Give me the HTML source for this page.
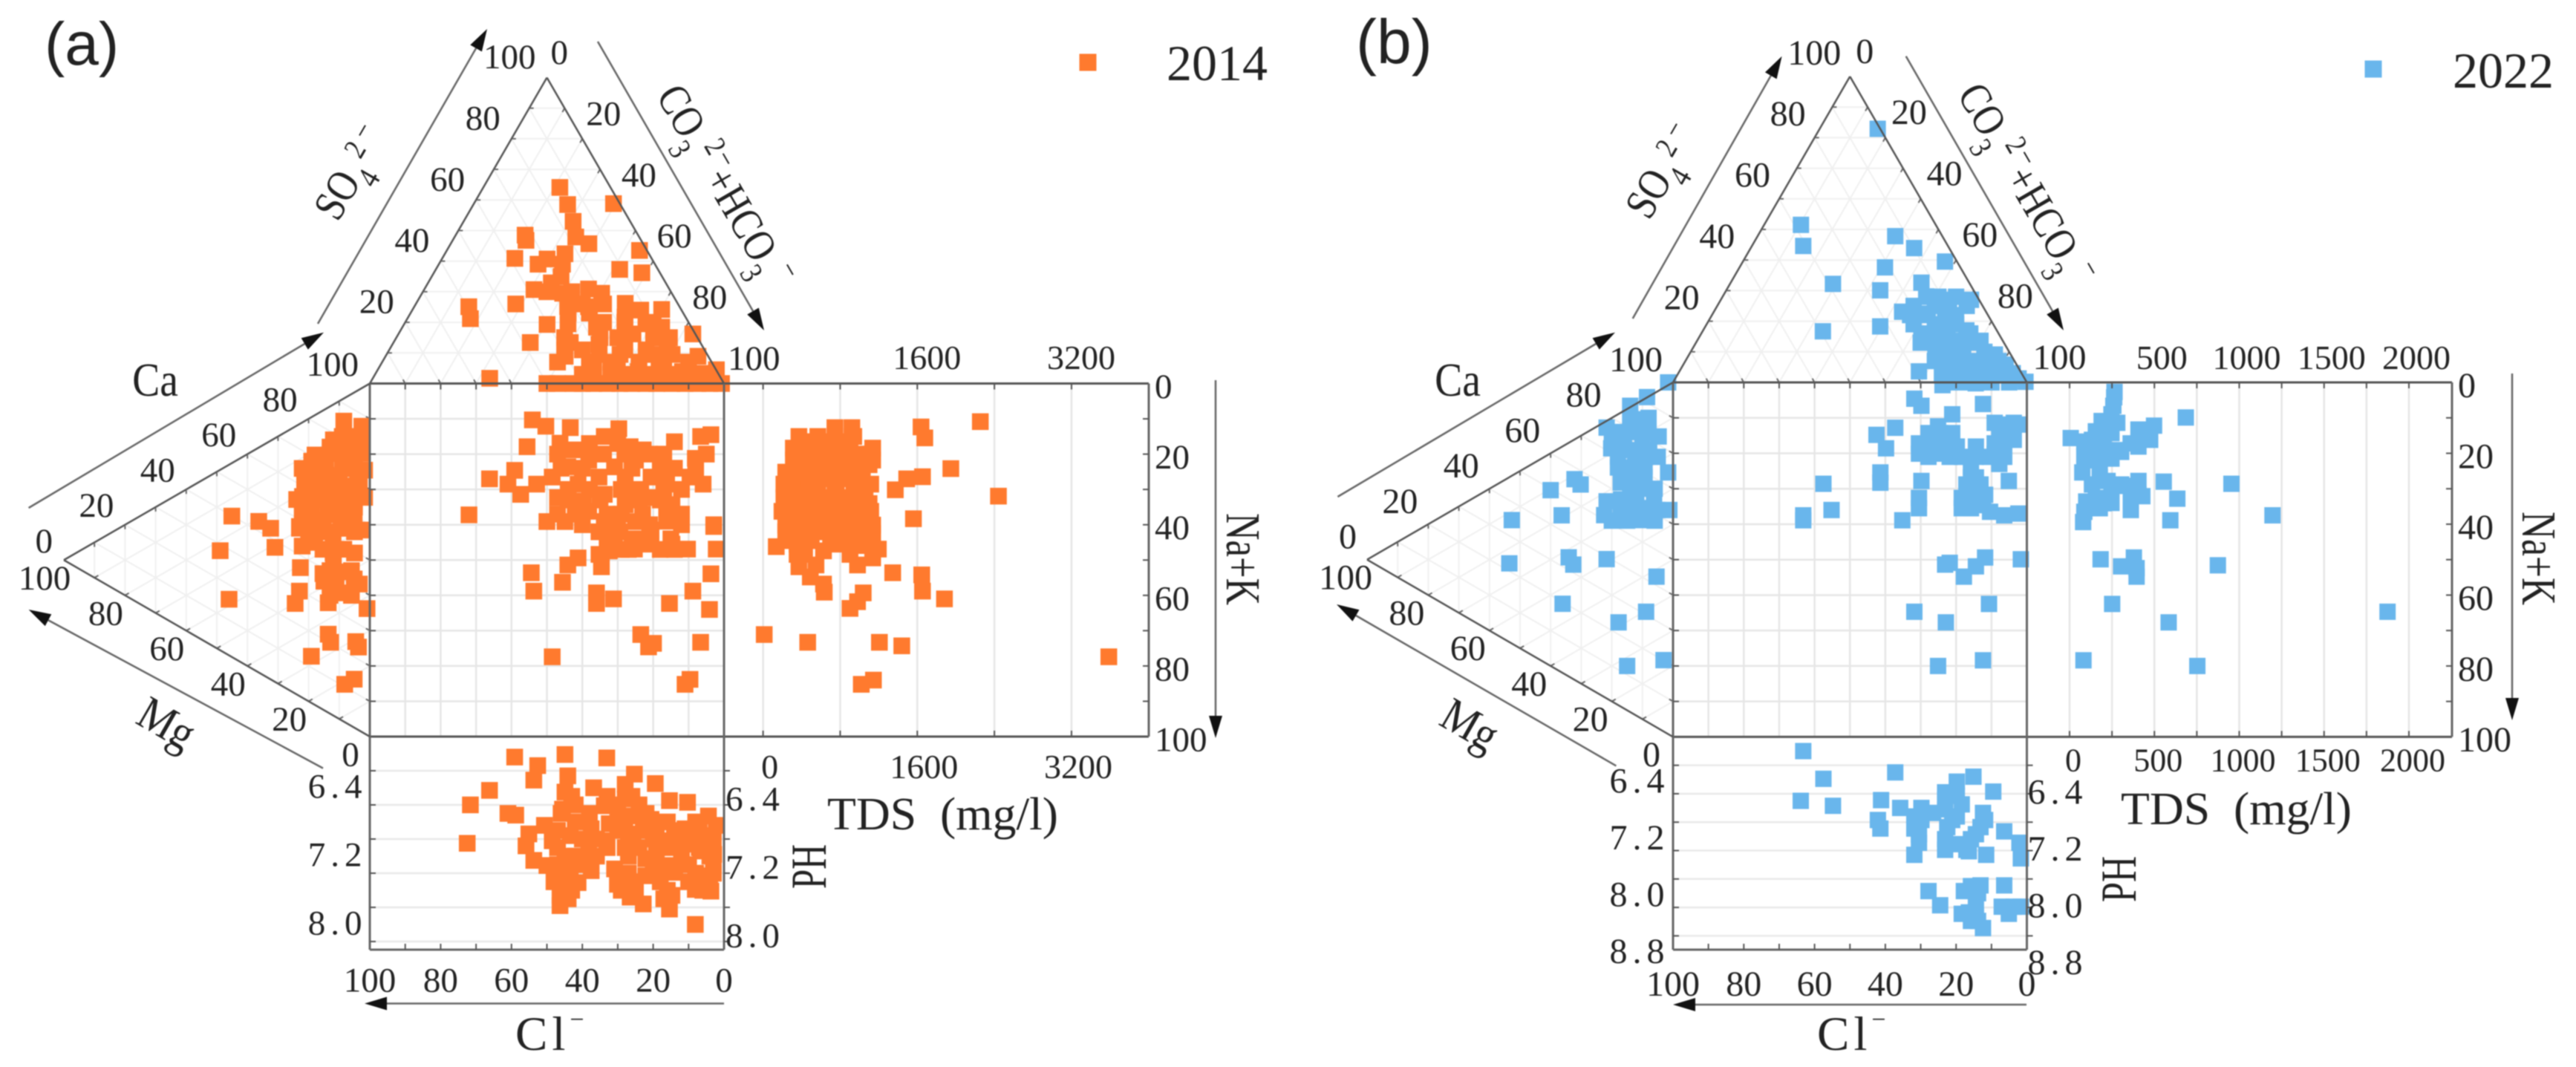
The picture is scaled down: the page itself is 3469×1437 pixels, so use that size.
<!DOCTYPE html>
<html lang="en">
<head>
<meta charset="utf-8">
<title>Piper diagrams 2014 and 2022</title>
<style>
html,body{margin:0;padding:0;background:#fff;}
svg{display:block;filter:blur(0.7px);}
text{font-family:"Liberation Serif",serif;fill:#222;}
.sans{font-family:"Liberation Sans",sans-serif;}
</style>
</head>
<body>
<svg id="chart" xmlns="http://www.w3.org/2000/svg" width="3469" height="1437" viewBox="0 0 3469 1437">
<rect width="3469" height="1437" fill="#fff"/>
<g id="plots"></g>

<text class="sans" x="60" y="87" font-size="82">(a)</text>
<text class="sans" x="1826" y="85" font-size="84">(b)</text>

<rect x="1453.5" y="72.5" width="23" height="23" fill="#FF7A2E"/>
<text x="1571" y="108" font-size="68">2014</text>
<rect x="3184.5" y="81.5" width="23" height="23" fill="#69B6EC"/>
<text x="3303" y="118" font-size="68">2022</text>

<text transform="translate(209,533) scale(0.87,1)" font-size="64" text-anchor="middle">Ca</text>
<text transform="translate(224,975) rotate(30) scale(0.87,1)" y="20" font-size="64" text-anchor="middle">Mg</text>
<text x="694" y="1414" font-size="65" letter-spacing="6">Cl<tspan font-size="34" dy="-30">−</tspan></text>
<text x="1114" y="1117" font-size="62" textLength="311" lengthAdjust="spacingAndGlyphs">TDS&#160;&#160;(mg/l)</text>
<text transform="translate(1112,1167) rotate(-90)" font-size="68" text-anchor="middle" textLength="60" lengthAdjust="spacingAndGlyphs">PH</text>
<text transform="translate(1652,753) rotate(90)" font-size="66" text-anchor="middle" textLength="124" lengthAdjust="spacingAndGlyphs">Na+K</text>
<text transform="translate(455,300) rotate(-60) scale(0.833,1)" font-size="60">SO<tspan font-size="43" dy="20">4</tspan><tspan font-size="41" dx="8" dy="-36">2</tspan><tspan font-size="41" dx="11" dy="-4">−</tspan></text>
<text transform="translate(883,129) rotate(60) scale(0.833,1)" font-size="60">CO<tspan font-size="43" dy="22">3</tspan><tspan font-size="41" dx="4" dy="-44">2</tspan><tspan font-size="41" dx="4" dy="-4">−</tspan><tspan font-size="60" dx="-2" dy="26">+HCO</tspan><tspan font-size="43" dy="22">3</tspan><tspan font-size="41" dx="4" dy="-48">−</tspan></text>

<text transform="translate(1963,533) scale(0.87,1)" font-size="64" text-anchor="middle">Ca</text>
<text transform="translate(1979,977) rotate(30) scale(0.87,1)" y="20" font-size="64" text-anchor="middle">Mg</text>
<text x="2447" y="1414" font-size="65" letter-spacing="6">Cl<tspan font-size="34" dy="-30">−</tspan></text>
<text x="2856" y="1110" font-size="62" textLength="311" lengthAdjust="spacingAndGlyphs">TDS&#160;&#160;(mg/l)</text>
<text transform="translate(2876,1184) rotate(-90)" font-size="68" text-anchor="middle" textLength="62" lengthAdjust="spacingAndGlyphs">PH</text>
<text transform="translate(3397,752) rotate(90)" font-size="66" text-anchor="middle" textLength="126" lengthAdjust="spacingAndGlyphs">Na+K</text>
<text transform="translate(2221,298) rotate(-60) scale(0.833,1)" font-size="60">SO<tspan font-size="43" dy="20">4</tspan><tspan font-size="41" dx="8" dy="-36">2</tspan><tspan font-size="41" dx="11" dy="-4">−</tspan></text>
<text transform="translate(2635,127) rotate(60) scale(0.833,1)" font-size="60">CO<tspan font-size="43" dy="22">3</tspan><tspan font-size="41" dx="4" dy="-44">2</tspan><tspan font-size="41" dx="4" dy="-4">−</tspan><tspan font-size="60" dx="-2" dy="26">+HCO</tspan><tspan font-size="43" dy="22">3</tspan><tspan font-size="41" dx="4" dy="-48">−</tspan></text>
</svg>
<script>
// Tick labels
const percentLabels = [0, 20, 40, 60, 80, 100];
const aTdsTicks = [0, 800, 1600, 2400, 3200];
const aTdsLabels = [1600, 3200];
const aTdsLabelsLower = [0, 1600, 3200];
const bTdsTicks = [0, 250, 500, 750, 1000, 1250, 1500, 1750, 2000];
const bTdsLabels = [500, 1000, 1500, 2000];
const bTdsLabelsLower = [0, 500, 1000, 1500, 2000];
const aPhTicks = [6.4, 6.8, 7.2, 7.6, 8.0, 8.4];
const aPhLabels = ["6.4", "7.2", "8.0"];
const bPhTicks = [6.4, 6.8, 7.2, 7.6, 8.0, 8.4, 8.8];
const bPhLabels = ["6.4", "7.2", "8.0", "8.8"];

// 2014: anion triangle [SO4, CO3+HCO3]
const aAnion = [[64.1,21.6],[58.5,26.6],[58.8,39.4],[53,30.9],[48.5,19.6],[46.8,20.7],[47.9,34.2],[45.7,39],[43.5,54.4],[42.4,33.9],[40.7,29.7],[39,28],[40.9,20.5],[39,34.9],[37.3,51.9],[36.2,58.7],[32.9,34.8],[30.7,31],[30.9,46.3],[29.5,50.7],[29.5,39.7],[26,28.2],[25.1,15.4],[21.2,17.8],[26.2,59],[24.2,70.3],[24,64.5],[25.1,43.3],[25.1,49.2],[19.3,40.4],[19.5,46.2],[18.4,54.8],[21.7,61.2],[19.5,68.2],[16.2,83.1],[15,77.1],[15,72.6],[13.4,38.6],[13.4,49.9],[8.9,50.7],[12.8,58.3],[9.5,65.9],[9.5,74.7],[9.5,80.6],[8.9,88.2],[4.5,95.6],[5,60.7],[5.6,67.1],[3.9,73.8],[4.5,79.4],[3.9,86.3],[3.3,92.5],[1.7,33],[0,50],[0,57.4],[0,63.2],[0,70.6],[0,77.9],[0,85.3],[0,92.6],[0,99.3],[9.5,60],[16.2,66.2],[18.4,73.2],
[20,56],[20,62],[20,70],[15,47.5],[15,57.5],[15,62.5],[15,74.5],[11,49.5],[11,54.5],[11,66.5],[11,72.5],[11,78.5],[7,49.5],[7,58.5],[7,64.5],[7,72.5],[7,79.5],[7,86.5],[3,58.5],[3,66.5],[3,70.5],[3,76.5],[3,82.5],[3,88.5],[3,94.5],[35,36.5],[30,35],[30,42],[26,47],[26,53],[23,44.5],[23,50.5],[0,53],[0,60],[0,67],[0,74],[0,81],[0,89],[0,96]];
// 2014: cation triangle [Mg, Ca]
const aCation = [[8.5,85.1],[2.6,86.6],[11.9,78.1],[2.6,82.8],[17.9,70.8],[10.2,75.1],[2.6,78.9],[22.1,64.9],[14.5,68.7],[6.8,72.5],[1.7,74.6],[21.3,60.9],[11.9,65.6],[3.4,69.8],[23.9,55.2],[15.3,59.5],[7.7,63.4],[1.7,66.9],[22.1,51.8],[13.6,56],[5.1,60.3],[23,47.5],[15.3,51.4],[6.8,55.6],[45.1,39.9],[36.3,42.8],[32.4,42.8],[23,48],[17,50.5],[9.4,54.3],[2.6,57.2],[48.9,28.2],[31,38.1],[22.1,42.9],[15.3,45.4],[8.5,48.8],[11.9,43.7],[22.7,36.5],[15.3,38.5],[8.5,42.4],[5.1,42.1],[3.4,41.5],[9.4,36],[23,29.7],[24.4,25.5],[13.6,31.1],[46,15.9],[0.9,35.8],[13.6,22.2],[12.8,20.3],[4.6,24.6],[3.7,23.5],[19.1,13.2],[5.1,13.7],[8.2,10.7],
[5,82.5],[9,80.5],[5,79.5],[9,77.5],[13,75.5],[5,75.5],[9,73.5],[15,70.5],[19,68.5],[4,72],[10,69],[17,65.5],[7,67.5],[16,63],[19,61.5],[5,65.5],[11,62.5],[19,58.5],[22,57],[5,62.5],[10,60],[19,55.5],[9,56.5],[18,52],[5,55.5],[14,51],[20,48],[12,49],[18,46],[5,49.5],[12,46],[6,44],[13,40.5],[11,38.5],[15,36.5],[6,37],[13,33.5]];
// 2014: diamond square [Cl, Na+K]
const aSquare = [[54.1,10.3],[50.3,12.1],[55.6,17.9],[66.2,27],[59.1,24.6],[61,28.5],[57.4,31.4],[72,37.2],[43.4,12.5],[29.7,12.8],[14,16.5],[6.6,15],[3.7,14.5],[8.1,21.2],[46.3,16.9],[42.6,18.8],[33.8,15],[26.5,17.9],[22.8,18.8],[44.1,23.6],[38.2,21.7],[30.9,23.6],[25,21.7],[35.3,26.5],[48.5,26.5],[52.9,28.5],[41.2,28.5],[27.9,26.5],[20.6,26.5],[5.9,28.5],[9.6,26.5],[33.8,31.4],[23.5,30.4],[16.2,28.5],[47,32.3],[39.7,33.3],[27.9,34.3],[20.6,32.3],[14.7,34.3],[50,39.1],[44.9,39.1],[33.8,39.1],[25,39.1],[16.2,37.2],[2.9,40.5],[38.2,36.2],[35.3,42],[29.4,42],[20.6,41.5],[32.4,47.4],[35.3,48.4],[41.2,49.4],[44.1,51.4],[54.4,53.6],[45.6,56.3],[53.7,58.8],[25.3,46.9],[20.6,45.5],[14.7,45.5],[10.3,46.9],[2.2,46.9],[34.6,51.9],[3.7,53.9],[8.8,58.8],[36,59.3],[36,62.3],[31.2,61],[15.4,62.3],[4.1,64],[23.5,71.1],[19.9,73.6],[21.3,74.6],[6.6,73.3],[48.5,77.4],[9.6,83.8],[11,85.2],[2.9,40],[16.2,39],[30.9,42.5],
[38,17],[30,17],[47,20],[34,20],[28,20],[21,20],[17,20],[5,20],[46,24],[40,24],[26,24],[18,24],[14,24],[8,24],[44,30],[38,30],[29,30],[25,30],[17,30],[12,30],[44,33],[35,33],[24,33],[18,33],[47,37],[42,37],[33,37],[29,37],[23,37],[12,37],[40,40],[30,40],[21,40],[12,40],[33,44],[26,44],[23,44],[15,44],[29,47],[27,47],[18,47],[14,47]];
// 2014: TDS panel [TDS, Na+K]
const aTds = [[2254,10.8],[1639,12.3],[1678,15.4],[1948,24.1],[1654,26.4],[1490,27],[1372,30.1],[2442,31.9],[1560,38.3],[921,12.5],[745,12.5],[372,15],[568,15],[745,15],[941,15],[314,18.3],[510,18.3],[706,18.3],[902,18.3],[1137,18.3],[314,21.7],[470,21.7],[666,21.7],[823,21.7],[1019,21.7],[1137,21.7],[235,25.1],[392,25.1],[588,25.1],[784,25.1],[980,25.1],[216,28.5],[372,28.5],[568,28.5],[745,28.5],[941,28.5],[1117,28.5],[216,32.3],[431,32.3],[666,32.3],[862,32.3],[1058,32.3],[196,36.2],[392,36.2],[588,36.2],[784,36.2],[980,36.2],[1117,36.2],[235,40.1],[431,40.1],[627,40.1],[823,40.1],[1019,40.1],[1137,40.1],[235,42],[431,42],[627,41.5],[823,41.5],[1019,41.5],[1137,42.5],[137,46.2],[353,45.5],[353,48.4],[627,47.4],[784,45.5],[1196,46.9],[1137,49.4],[980,51.4],[372,51.9],[490,54.8],[627,56.8],[635,59.1],[1039,59.3],[980,61.8],[902,63.7],[1345,53.6],[1646,54.2],[1654,58.8],[1882,61],[12,71.1],[463,73.3],[1207,73.3],[1439,74.3],[3587,77.4],[1145,84],[1019,85.2],[549,51.4],[431,48.4],[1058,45.9],[902,48.4],
[400,16.5],[500,16.5],[600,16.5],[700,16.5],[800,16.5],[900,16.5],[400,20],[500,20],[600,20],[700,20],[800,20],[900,20],[1000,20],[1100,20],[320,23],[420,23],[520,23],[620,23],[720,23],[820,23],[920,23],[1020,23],[1100,23],[300,27],[480,27],[660,27],[850,27],[1030,27],[300,30],[480,30],[560,30],[760,30],[950,30],[1040,30],[300,34],[500,34],[750,34],[950,34],[1100,34],[300,38],[500,38],[700,38],[900,38],[320,42],[530,42],[730,42],[920,42],[280,44.5],[500,44.5],[700,44.5],[880,44.5],[1000,44.5]];
// 2014: pH panel [Cl, pH]
const aPh = [[59.1,6.24],[44.9,6.21],[33.1,6.25],[52.6,6.34],[53.7,6.51],[25.3,6.44],[44.1,6.46],[66.2,6.63],[71.6,6.8],[19.4,6.55],[10.3,6.77],[15.4,6.75],[4.4,6.93],[2.2,7.04],[61,6.9],[58.8,6.92],[72.5,7.25],[44.9,6.65],[45.6,6.85],[36.8,6.6],[27.9,6.56],[27.9,6.73],[33.8,6.81],[50.7,7.04],[55.1,7.14],[55.9,7.28],[53.7,7.45],[48.5,7.22],[43.4,7.16],[37.5,7.08],[32.4,7.02],[26.5,6.93],[20.6,6.97],[19.1,7.14],[25.7,7.14],[33.1,7.22],[38.2,7.32],[44.9,7.4],[50,7.51],[43.4,7.57],[37.5,7.57],[45.6,7.71],[41.2,7.71],[46.3,7.98],[46.3,7.86],[30.9,7.55],[30.1,7.73],[26.5,7.88],[22.8,7.96],[15.4,8.02],[14.7,7.86],[22.1,7.63],[22.1,7.43],[16.2,7.51],[11,7.08],[10.3,7.26],[14.7,7.22],[13.9,7.59],[6.6,7.34],[2.9,7.38],[8.1,7.79],[3.7,7.81],[5.9,7.63],[4.4,7.16],[8.1,8.2],[27.9,7.3],[19.1,7.32],[22.8,7.06],
[42,7],[28,7],[16,7],[8,7],[47,7.1],[30,7.1],[22,7.1],[14,7.1],[7,7.1],[40,7.2],[36,7.2],[27,7.2],[20,7.2],[9,7.2],[3,7.2],[47,7.3],[33,7.3],[24,7.3],[16,7.3],[7,7.3],[42,7.4],[36,7.4],[27,7.4],[12,7.4],[4,7.4],[47,7.5],[40,7.5],[20,7.5],[10,7.5],[3,7.5],[46,7.6],[27,7.6],[18,7.6],[8,7.6],[3,7.6],[48,7.7],[26,7.7],[18,7.7],[10,7.7],[4,7.7],[43,7.8],[29,7.8],[25,7.8],[16,7.8],[6,7.8],[42,6.8],[32,6.8],[24,6.8],[46,6.9],[38,6.9],[30,6.9],[22,6.9],[43,6.7],[33,6.7],[26,6.7],[44,7.9],[17,7.9]];

// 2022: anion triangle [SO4, CO3+HCO3]
const bAnion = [[82.9,16.4],[51.5,10.4],[44.6,14.5],[47.8,38.9],[43.9,46.2],[39.5,57.1],[37.6,41.1],[32.2,29.1],[30.1,43.5],[32.6,53.9],[28.1,57.5],[27,64],[27,70.7],[23.1,53.2],[22.5,58.9],[22,65.9],[18.3,49.4],[16.7,34],[15.8,62.3],[18.1,68.5],[17,74.4],[10.3,69],[13.6,73.4],[13.6,80.1],[9.1,86.4],[3.6,67.7],[8,77.6],[6.9,83.5],[5.8,90.7],[2.5,81.7],[2.5,87],[2.5,92.4],[1.3,97],[0.2,99.5],[-0.9,76.6],[11.4,72.5],[-0.3,85.7],
[28,58],[28,61],[28,66],[25,55.5],[25,61.5],[25,65.5],[25,70.5],[22,56],[22,61],[22,69],[19,58.5],[19,64.5],[19,70.5],[16,64],[16,68],[16,76],[13,63.5],[13,67.5],[13,77.5],[10,73],[10,77],[10,83],[7,70.5],[7,74.5],[7,80.5],[7,88.5],[5,79.5],[5,85.5],[5,91.5],[3,74.5],[3,77.5],[3,83.5],[3,88.5],[3,94.5],[0,80],[0,83],[0,90],[0,95]];
// 2022: cation triangle [Mg, Ca]
const bCation = [[1.6,99.2],[8.5,91.6],[14,86.4],[21.7,76.4],[12.4,83.4],[9.3,82],[4.7,82.4],[20.2,71.3],[14,73.9],[7.8,77],[9.3,71.5],[1.6,73.8],[17.1,63.2],[9.3,68.6],[32.2,56.6],[40,49.6],[21.7,55.6],[14,62.3],[6.2,64.8],[17.1,56],[9.3,59.9],[22.5,51.3],[10.9,55.7],[1.2,63.4],[36.4,44.3],[52.7,34.8],[30.2,56.1],[12.4,71.8],[15.5,67.4],[53.5,22.2],[34.1,33.6],[32.6,32.3],[21.7,39.3],[5.4,42.5],[36.1,19.5],[8.8,30.9],[17.8,23.4],[15,12.5],[3.1,20.1],
[8,86],[14,83],[8,82],[13,79.5],[18,77],[10,78],[16,75],[20,73],[5,76.5],[10,74],[18,70],[13,69.5],[18,67],[13,66.5],[10,65],[6,67],[12,61],[17,58.5],[14,57],[5,61.5],[15,53.5],[20,51],[6,58]];
// 2022: diamond square [Cl, Na+K]
const bSquare = [[31.8,4.6],[29.8,6.6],[21.1,9],[37.2,12.8],[42.5,14.8],[39.8,18.6],[12.4,6.1],[24.5,14.3],[27.8,17.2],[22.5,17.2],[30.5,20.1],[25.1,20.1],[18.4,21],[14.4,18.1],[7.8,13.3],[5.1,11.9],[2.4,11.9],[6.4,17.2],[9.1,20.1],[7.8,23],[3.7,16.2],[41.4,25.4],[41.4,28.3],[29.8,27.8],[57.5,28.6],[5.1,27.8],[14.4,26.8],[15.8,30.7],[14.4,34.6],[18.4,35.5],[30.5,32.6],[30.5,35.5],[55.2,36],[63.2,37.5],[63.2,38.9],[35.2,38.9],[6.4,37.5],[12.4,34.6],[2.4,37],[23.1,51.4],[21.8,50.9],[17.8,54.8],[14.4,51.9],[11.8,49.4],[1.7,49.9],[10.7,62.5],[31.8,64.7],[22.9,67.7],[25.1,80],[12.4,78.4],
[25.1,12.4],[27.8,14.3],[21.1,14.3],[30.5,17.2],[25.1,17.2],[19.8,18.1],[27.8,21],[21.8,21],[14.4,21],[15.8,23.9],[15.8,26.8],[17.1,28.8],[13.1,28.8],[11.8,31.7],[18.4,32.6],[15.8,35.5],[10.4,36.5],[9.1,11.4],[6.4,14.3],[9.1,17.2],[10.4,21],[6.4,21],[3.7,11.4]];
// 2022: TDS panel [TDS, Na+K]
const bTds = [[265,2.7],[258,6.6],[189,10.9],[281,11.4],[7,15.7],[132,16.2],[201,15.3],[406,13.3],[498,12.2],[475,16.2],[110,20.1],[201,20.1],[304,19.6],[406,18.1],[75,25.4],[178,24.9],[132,28.8],[224,27.8],[304,28.8],[406,27.8],[555,28],[429,32.1],[635,32.8],[201,34.1],[98,33.6],[361,36],[132,35.5],[80,39.4],[594,38.9],[685,9.9],[954,28.6],[1196,37.5],[183,49.9],[304,51.9],[379,49.4],[395,52.4],[395,54.8],[874,51.6],[251,62.5],[584,67.7],[1874,64.7],[82,78.4],[753,80],
[263,4.2],[247,9],[201,11.4],[155,13.8],[247,14.3],[87,16.7],[178,18.1],[270,19.1],[360,17.2],[429,15.7],[87,21],[155,22],[247,21.5],[178,26.8],[247,29.7],[338,29.2],[406,31.7],[361,33.6],[155,32.6],[247,34],[87,36.5],[178,35.5]];
// 2022: pH panel [Cl, pH]
const bPh = [[63.2,6.2],[57.5,6.59],[63.9,6.9],[54.8,6.97],[37.2,6.5],[15.1,6.56],[19.8,6.63],[23.1,6.78],[9.5,6.77],[41.2,6.89],[35.8,7],[29.8,7],[29.8,7.17],[23.1,7.02],[18.4,6.95],[21.1,7.17],[12.4,7.07],[13.1,7.27],[42.1,7.17],[41.4,7.29],[31.8,7.29],[30.5,7.49],[31.8,7.66],[23.1,7.44],[23.1,7.59],[17.1,7.59],[15.8,7.44],[11.5,7.66],[6.4,7.33],[2.1,7.49],[1.7,7.71],[27.8,8.17],[24.5,8.37],[13.1,8.09],[17.8,8.17],[6.4,8.09],[18.4,8.49],[14.4,8.39],[12.4,8.69],[13.8,8.59],[7.1,8.39],[5.1,8.49],[1.7,8.39],
[23.1,6.88],[19.8,6.83],[26.5,7.07],[19.8,7.12],[31.8,7.12],[22.5,7.27],[19.8,7.51],[16.4,7.61],[14.4,7.37],[11.8,7.17],[13.8,8.2],[15.8,8.1],[14.4,8.52],[16.4,8.47],[15.8,8.59],[3.7,8.39],[30.5,7.37]];

const NS = "http://www.w3.org/2000/svg";
const plots = document.getElementById("plots");

function lerp(p, q, t) {
  return [p[0] + (q[0] - p[0]) * t, p[1] + (q[1] - p[1]) * t];
}
function group(parent, name) {
  const el = document.createElementNS(NS, "g");
  
  
  parent.appendChild(el);
  return el;
}
function line(parent, x1, y1, x2, y2, stroke, width, name) {
  const el = document.createElementNS(NS, "line");
  el.setAttribute("x1", x1);
  el.setAttribute("y1", y1);
  el.setAttribute("x2", x2);
  el.setAttribute("y2", y2);
  el.setAttribute("stroke", stroke);
  el.setAttribute("stroke-width", width);
  
  
  parent.appendChild(el);
  return el;
}
function label(parent, txt, x, y, size, anchor, name, spacing) {
  const el = document.createElementNS(NS, "text");
  el.setAttribute("x", x);
  el.setAttribute("y", y + size * 0.33);
  el.setAttribute("font-size", size);
  el.setAttribute("text-anchor", anchor);
  if (spacing) el.setAttribute("letter-spacing", spacing);
  el.textContent = txt;
  
  
  parent.appendChild(el);
  return el;
}
function marker(parent, x, y, size, color, name) {
  const el = document.createElementNS(NS, "rect");
  el.setAttribute("x", x - size / 2);
  el.setAttribute("y", y - size / 2);
  el.setAttribute("width", size);
  el.setAttribute("height", size);
  el.setAttribute("fill", color);
  
  
  parent.appendChild(el);
  return el;
}
function arrow(parent, x1, y1, x2, y2, name) {
  const g = group(parent, name);
  const len = Math.hypot(x2 - x1, y2 - y1);
  const ux = (x2 - x1) / len, uy = (y2 - y1) / len;
  const bx = x2 - ux * 30, by = y2 - uy * 30;
  line(g, x1, y1, bx, by, "#666", 2.5, name + "-line");
  const head = document.createElementNS(NS, "polygon");
  head.setAttribute("points", x2 + "," + y2 + " " + (bx - uy * 9) + "," + (by + ux * 9) + " " + (bx + uy * 9) + "," + (by - ux * 9));
  head.setAttribute("fill", "#111");
  
  
  g.appendChild(head);
}
function triangleGrid(parent, p, q, r, name) {
  const sets = [[p, q, r], [q, r, p], [r, p, q]];
  for (let s = 0; s < 3; s++) {
    const a = sets[s][0], b = sets[s][1], c = sets[s][2];
    for (let v = 1; v < 10; v++) {
      const e1 = lerp(a, b, v / 10), e2 = lerp(a, c, v / 10);
      line(parent, e1[0], e1[1], e2[0], e2[1], "#f0f0f0", 2, name + "-gridline");
      const d = Math.hypot(e2[0] - e1[0], e2[1] - e1[1]);
      const t1 = lerp(e1, e2, 6 / d);
      line(parent, e1[0], e1[1], t1[0], t1[1], "#666", 2, name + "-tick");
    }
  }
}

function drawPanel(c, anion, cation, square, tds, ph) {
  const root = group(plots, "panel-" + c.id);
  const W = c.x1 - c.x0, H = c.y1 - c.y0;
  // axis functions
  const xCl = v => c.x1 - W * v / 100;
  const yNa = v => c.y0 + H * v / 100;
  const xTds = v => c.tds0 + v * c.tdsPx;
  const yPh = v => c.y1 + (v - 6) * c.phPx;
  const anionX = (so4, co3) => c.x0 + W * (co3 + so4 / 2) / 100;
  const anionY = so4 => c.y0 - c.triH * so4 / 100;
  const cationX = mg => c.x0 - c.triH * mg / 100;
  const cationY = (mg, ca) => c.y1 - H * (ca + mg / 2) / 100;

  const apex = [anionX(100, 0), anionY(100)];
  const leftV = [cationX(100), cationY(100, 0)];
  const tl = [c.x0, c.y0], tr = [c.x1, c.y0], bl = [c.x0, c.y1];

  // grids
  const grid = group(root, "grid-" + c.id);
  triangleGrid(grid, apex, tl, tr, "anion");
  triangleGrid(grid, leftV, tl, bl, "cation");
  for (let v = 10; v < 100; v += 10) {
    line(grid, xCl(v), c.y0, xCl(v), c.y1, "#e6e6e6", 2.5, "square-gridline-x");
    line(grid, c.x0, yNa(v), c.x1, yNa(v), "#e6e6e6", 2.5, "square-gridline-y");
  }
  c.tdsTicks.forEach(v => line(grid, xTds(v), c.y0, xTds(v), c.y1, "#e6e6e6", 2.5, "tds-gridline"));
  c.phTicks.forEach(v => line(grid, c.x0, yPh(v), c.x1, yPh(v), "#e9e9e9", 2.5, "ph-gridline"));

  // markers
  const mk = group(root, "markers-" + c.id);
  anion.forEach(d => marker(mk, anionX(d[0], d[1]), anionY(d[0]), c.size, c.color, "anion-point"));
  cation.forEach(d => marker(mk, cationX(d[0]), cationY(d[0], d[1]), c.size, c.color, "cation-point"));
  square.forEach(d => marker(mk, xCl(d[0]), yNa(d[1]), c.size, c.color, "diamond-point"));
  tds.forEach(d => marker(mk, xTds(d[0]), yNa(d[1]), c.size, c.color, "tds-point"));
  ph.forEach(d => marker(mk, xCl(d[0]), yPh(d[1]), c.size, c.color, "ph-point"));

  // frames
  const fr = group(root, "frames-" + c.id);
  const dark = "#555";
  line(fr, c.x0, c.y0, c.xr, c.y0, dark, 3, "upper-axis");
  line(fr, c.x0, c.y1, c.xr, c.y1, dark, 3, "middle-axis");
  line(fr, c.x0, c.y0, c.x0, c.yb, "#666", 3, "left-axis");
  line(fr, c.x1, c.y0, c.x1, c.yb, "#666", 3, "right-square-axis");
  line(fr, c.xr, c.y0, c.xr, c.y1, "#666", 3, "nak-axis");
  line(fr, c.x0, c.yb, c.x1, c.yb, "#666", 3, "cl-axis");
  line(fr, apex[0], apex[1], tl[0], tl[1], dark, 2.5, "anion-left-edge");
  line(fr, apex[0], apex[1], tr[0], tr[1], dark, 2.5, "anion-right-edge");
  line(fr, leftV[0], leftV[1], tl[0], tl[1], dark, 2.5, "cation-upper-edge");
  line(fr, leftV[0], leftV[1], bl[0], bl[1], dark, 2.5, "cation-lower-edge");
  for (let v = 10; v < 100; v += 10) {
    line(fr, xCl(v), c.y0, xCl(v), c.y0 + 8, dark, 2, "square-top-tick");
    line(fr, c.x0, yNa(v), c.x0 + 8, yNa(v), dark, 2, "square-left-tick");
    line(fr, c.xr, yNa(v), c.xr - 8, yNa(v), dark, 2, "nak-tick");
    line(fr, xCl(v), c.yb, xCl(v), c.yb - 8, dark, 2, "cl-tick");
  }
  c.tdsTicks.forEach(v => {
    line(fr, xTds(v), c.y0, xTds(v), c.y0 + 8, dark, 2, "tds-top-tick");
    line(fr, xTds(v), c.y1, xTds(v), c.y1 - 8, dark, 2, "tds-bottom-tick");
  });
  c.phTicks.forEach(v => {
    line(fr, c.x0, yPh(v), c.x0 + 8, yPh(v), dark, 2, "ph-left-tick");
    line(fr, c.x1, yPh(v), c.x1 + 8, yPh(v), dark, 2, "ph-right-tick");
  });

  // tick labels
  const tx = group(root, "tick-labels-" + c.id);
  const fs = c.font;
  percentLabels.forEach(v => {
    if (v > 0) label(tx, v, anionX(v, 0) + c.so4Off[0], anionY(v) + c.so4Off[1], fs, "end", "so4-tick-label");
    label(tx, v, anionX(100 - v, v) + c.co3Off[0], anionY(100 - v) + c.co3Off[1], fs, "start", "co3-tick-label");
    label(tx, v, cationX(100 - v) + c.caOff[0], cationY(100 - v, v) + c.caOff[1], fs, "end", "ca-tick-label");
    label(tx, v, cationX(v) + c.mgOff[0], cationY(v, 0) + c.mgOff[1], fs, "middle", "mg-tick-label");
    label(tx, v, xCl(v), c.clLabelY, fs, "middle", "cl-tick-label");
    label(tx, v, c.xr + 8, yNa(v) + 4, fs, "start", "nak-tick-label");
  });
  c.tdsLabels.forEach(v => label(tx, v, xTds(v) + c.tdsTopOff, 482, 46, "middle", "tds-top-tick-label"));
  c.tdsLabelsLower.forEach(v => label(tx, v, xTds(v) + c.tdsLowOff, c.tdsLowY, c.tdsLowFont, "middle", "tds-bottom-tick-label"));
  c.phLabels.forEach(s => {
    const v = parseFloat(s);
    label(tx, s, c.phLeftX, yPh(v) + 21, fs, "middle", "ph-left-tick-label", 7);
    label(tx, s, c.phRightX, yPh(v) + c.phRightOff, fs, "middle", "ph-right-tick-label", 7);
  });

  // axis arrows
  const ar = group(root, "axis-arrows-" + c.id);
  c.arrows.forEach(a => arrow(ar, a[0], a[1], a[2], a[3], a[4] + "-arrow"));
}

drawPanel({
  id: "a", x0: 498, x1: 975, y0: 516.5, y1: 992, yb: 1279, xr: 1547, triH: 412,
  tds0: 1027.6, tdsPx: 0.1298, phPx: 115, size: 22.5, color: "#FF7A2E", font: 47,
  tdsTicks: aTdsTicks, tdsLabels: aTdsLabels, tdsLabelsLower: aTdsLabelsLower,
  phTicks: aPhTicks, phLabels: aPhLabels,
  so4Off: [-15, -28], co3Off: [5, -34], caOff: [-15, -26], mgOff: [-26, 24],
  clLabelY: 1320, tdsTopOff: 13, tdsLowOff: 9, tdsLowY: 1033, tdsLowFont: 46,
  phLeftX: 454.6, phRightX: 1017, phRightOff: 38,
  arrows: [[38.6, 684, 436, 447.7, "ca"], [435, 1034.6, 38.6, 821, "mg"], [428, 436, 656, 39, "so4"], [805, 56, 1029, 445, "co3-hco3"], [1637, 512, 1637, 994, "nak"], [975, 1351.5, 491, 1351.5, "cl"]]
}, aAnion, aCation, aSquare, aTds, aPh);

drawPanel({
  id: "b", x0: 2253, x1: 2729.5, y0: 515, y1: 992.4, yb: 1279, xr: 3302, triH: 412,
  tds0: 2787, tdsPx: 0.2285, phPx: 95.7, size: 22, color: "#69B6EC", font: 48,
  tdsTicks: bTdsTicks, tdsLabels: bTdsLabels, tdsLabelsLower: bTdsLabelsLower,
  phTicks: bPhTicks, phLabels: bPhLabels,
  so4Off: [-12, -32], co3Off: [8, -34], caOff: [-14, -31], mgOff: [-29, 24],
  clLabelY: 1325, tdsTopOff: 10, tdsLowOff: 5, tdsLowY: 1024, tdsLowFont: 44,
  phLeftX: 2208, phRightX: 2771, phRightOff: 36,
  arrows: [[1801.4, 669, 2175, 447.7, "ca"], [2176.4, 1031.4, 1800, 814, "mg"], [2198.7, 429, 2399.6, 75.8, "so4"], [2566.7, 75.8, 2779, 445, "co3-hco3"], [3383, 503, 3383, 970, "nak"], [2729, 1353, 2253, 1353, "cl"]]
}, bAnion, bCation, bSquare, bTds, bPh);
</script>
</body>
</html>
